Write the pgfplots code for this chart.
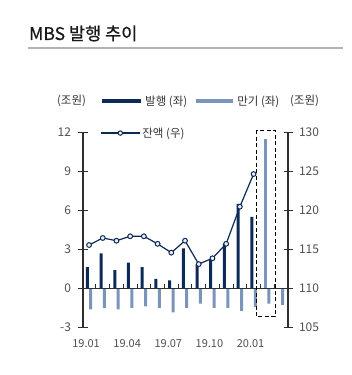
\documentclass[border=0pt]{standalone}
\usepackage{pgfplots}
\pgfplotsset{compat=1.18}
\usepackage{fontspec}
\setmainfont{Noto Sans CJK KR}
\newfontfamily\titlefont[FakeBold=0.6]{Noto Sans CJK KR}
\definecolor{navy}{RGB}{12,42,86}
\definecolor{lightb}{RGB}{122,148,186}
\definecolor{axisgray}{RGB}{45,45,45}
\definecolor{txtgray}{RGB}{80,80,80}
\begin{document}
\begin{tikzpicture}[x=1pt,y=1pt]
\path (0,0) rectangle (352,375);
\node[anchor=base west, inner sep=0pt, font=\titlefont\fontsize{17.5}{20}\selectfont, text=black!90] at (29,335) {MBS 발행 추이};
\draw[black!30, line width=1.2pt] (28,327) -- (343,327);
\node[font=\fontsize{11.5}{13}\selectfont, text=black!80] at (71.5,274) {(조원)};
\node[font=\fontsize{11.5}{13}\selectfont, text=black!80] at (304.5,274) {(조원)};
\begin{axis}[
  at={(83pt,47.7pt)}, anchor=south west, scale only axis,
  width=205pt, height=195pt,
  xmin=0.56, xmax=15.51, ymin=-3, ymax=12,
  axis y line*=left, axis x line*=bottom,
  /pgf/number format/assume math mode=true,
  x axis line style={draw=none},
  xtick={1,4,7,10,13}, xticklabels={19.01,19.04,19.07,19.10,20.01},
  xtick style={draw=none},
  xticklabel style={font=\fontsize{11}{13}\selectfont, text=txtgray, yshift=-9pt, xshift=-3pt},
  ytick={-3,0,3,6,9,12},
  ytick style={draw=axisgray, line width=1.2pt},
  major tick length=9pt, ytick align=center,
  y axis line style={draw=axisgray, line width=1.3pt},
  yticklabel style={font=\fontsize{12}{14}\selectfont, text=txtgray, xshift=-4pt},
  clip=false,
  legend style={draw=none, fill=none, inner sep=0pt, anchor=west, at={(0.083,1.16)},
    font=\fontsize{11.5}{13}\selectfont, text=black!80,
    /tikz/every even column/.append style={column sep=5pt}},
  legend columns=2,
]
\addplot[ybar, bar width=3pt, bar shift=-1.7pt, fill=navy, draw=none,
  legend image code/.code={\draw[navy, line width=4pt] (0pt,0pt) -- (39pt,0pt);}]
  coordinates {(1,1.63) (2,2.68) (3,1.40) (4,1.97) (5,1.63) (6,0.72) (7,0.60) (8,3.08) (9,1.86) (10,2.22) (11,3.45) (12,6.5) (13,5.5)};
\addlegendentry{발행 (좌)}
\addplot[ybar, bar width=3pt, bar shift=1.7pt, fill=lightb, draw=none,
  legend image code/.code={\draw[lightb, line width=4pt] (0pt,0pt) -- (37pt,0pt);}]
  coordinates {(1,-1.63) (2,-1.50) (3,-1.63) (4,-1.50) (5,-1.40) (6,-1.50) (7,-1.86) (8,-1.50) (9,-1.17) (10,-1.50) (11,-1.50) (12,-1.74) (13,-1.42) (14,-1.17) (15,-1.28)};
\addlegendentry{만기 (좌)}
\addplot[ybar, bar width=3.3pt, bar shift=-1.7pt, fill=lightb, draw=none, forget plot]
  coordinates {(14,11.5)};
\draw[axisgray, line width=1.2pt] (axis cs:0.56,0) -- (axis cs:15.51,0);
\pgfplotsinvokeforeach{1.5,2.5,3.5,4.5,5.5,6.5,7.5,8.5,9.5,10.5,11.5,12.5,13.5,14.5}{
  \draw[axisgray, line width=1pt] (axis cs:#1,0) -- ++(0pt,4pt);
}
\draw[black, line width=1.1pt, dash pattern=on 4pt off 2.5pt] (axis cs:13.23,12.17) rectangle (axis cs:14.57,-2.2);
\end{axis}
\begin{axis}[
  at={(83pt,47.7pt)}, anchor=south west, scale only axis,
  width=205pt, height=195pt,
  xmin=0.56, xmax=15.51, ymin=105, ymax=130,
  axis y line*=right, axis x line=none,
  /pgf/number format/assume math mode=true,
  ytick={105,110,...,130},
  ytick style={draw=axisgray, line width=1.2pt},
  major tick length=9pt, ytick align=center,
  y axis line style={draw=axisgray, line width=1.3pt},
  yticklabel style={font=\fontsize{12}{14}\selectfont, text=txtgray, xshift=3pt},
  clip=false,
  legend style={draw=none, fill=none, inner sep=0pt, anchor=west, at={(0.083,0.996)},
    font=\fontsize{11.5}{13}\selectfont, text=black!80},
]
\addplot[navy, line width=1.2pt, mark=*, mark size=2.4pt, mark options={fill=white!85!lightb, draw=navy, line width=1pt},
  legend image code/.code={\draw[navy, line width=1.2pt] (0pt,0pt) -- (39pt,0pt); \draw[navy, fill=white!85!lightb, line width=1pt] (19.5pt,0pt) circle (2.2pt);}]
  coordinates {(1,115.55) (2,116.45) (3,116.1) (4,116.67) (5,116.67) (6,115.7) (7,114.57) (8,116.1) (9,113.1) (10,113.85) (11,115.7) (12,120.46) (13,124.65)};
\addlegendentry{잔액 (우)}
\end{axis}
\end{tikzpicture}
\end{document}
